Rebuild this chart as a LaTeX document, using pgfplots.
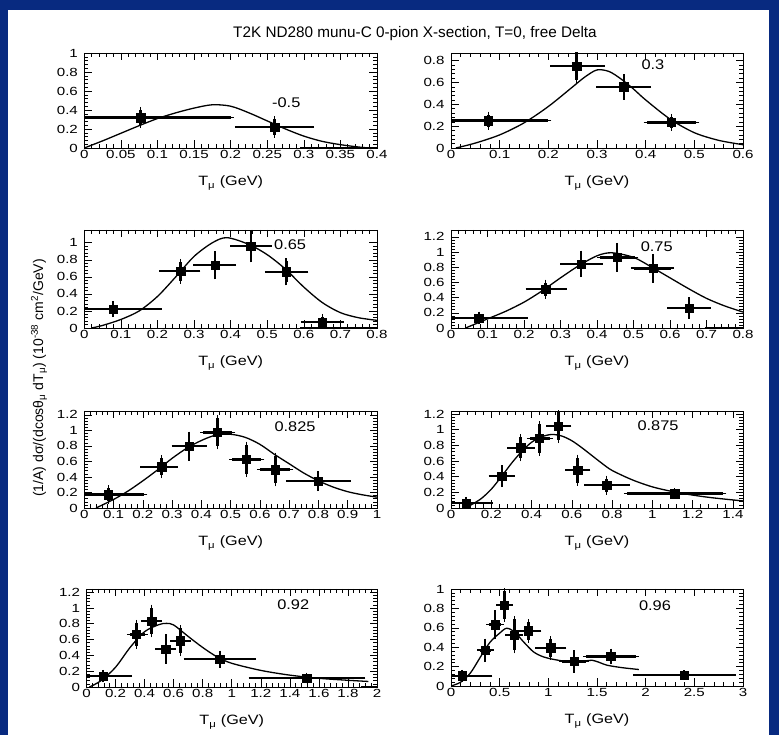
\documentclass[border=0pt]{standalone}
\usepackage{fontspec}
\setmainfont{Liberation Sans}
\usepackage{pgfplots}
\pgfplotsset{compat=1.18}
\definecolor{slideblue}{RGB}{8,42,128}

% text in the panels is set slightly wide, as in the original slide
\tikzset{cosl/.style={font=\fontsize{14}{15}\selectfont, xscale=1.17}}
\pgfplotsset{
  panel/.style={
    scale only axis,
    anchor=south west,
    axis line style={line width=0.7pt},
    tick align=inside,
    xtick pos=both, ytick pos=both,
    minor x tick num=4, minor y tick num=4,
    major tick length=7.5pt, minor tick length=3.8pt,
    tick style={black, line width=0.55pt},
    tick label style={font=\fontsize{11.8}{12}\selectfont, xscale=1.28},
    xticklabel style={yshift=1pt},
    yticklabel style={xshift=-1.5pt},
    scaled ticks=false,
    /pgf/number format/assume math mode=true,
    xticklabel style={/pgf/number format/fixed, /pgf/number format/precision=3},
    yticklabel style={/pgf/number format/fixed, /pgf/number format/precision=3},
    xlabel={T\textsubscript{μ} (GeV)},
    xlabel style={font=\fontsize{13.5}{14}\selectfont, xscale=1.2, at={(axis description cs:0.5,0)}, anchor=center, yshift=-35pt},
    xmin=0, ymin=0,
  },
  pts/.style={only marks, mark=square*, mark size=4.2pt, black,
    error bars/.cd, x dir=both, x explicit, y dir=both, y explicit,
    error bar style={line width=2.5pt},
    error mark options={line width=1.6pt, mark size=3pt}},
  theory/.style={black, line width=1.3pt, smooth, no markers},
  zeroseg/.style={black, line width=2.6pt, no markers},
  table/errtab/.style={x=x, y=y, x error minus expr={\thisrow{x}-\thisrow{lo}},
    x error plus expr={\thisrow{hi}-\thisrow{x}}, y error=dy, row sep=\\},
}

\begin{document}
\begin{tikzpicture}
\fill[slideblue] (0pt,0pt) rectangle (779pt,735pt);
\fill[white] (8pt,0pt) rectangle (769pt,725pt);

\node[font=\fontsize{15.3}{16}\selectfont] at (415pt,701.5pt) {T2K ND280 munu-C 0-pion X-section, T=0, free Delta};
\node[rotate=90, font=\fontsize{14}{14}\selectfont] at (39pt,357pt)
  {(1/A) dσ/(dcosθ\textsubscript{μ} dT\textsubscript{μ}) (10\textsuperscript{-38} cm\textsuperscript{2}/GeV)};

% cos theta = -0.5
\begin{axis}[panel, at={(84.3pt,587pt)}, width=292.7pt, height=95pt, xmax=0.4, ymax=1,
  xtick={0,0.05,0.1,0.15,0.2,0.25,0.3,0.35,0.4}, ytick={0,0.2,0.4,0.6,0.8,1}]
\addplot[theory] coordinates {(0,0) (0.025,0.075) (0.05,0.155) (0.075,0.235) (0.1,0.31)
  (0.125,0.37) (0.15,0.42) (0.175,0.455) (0.2,0.44) (0.225,0.37) (0.25,0.285) (0.275,0.2)
  (0.3,0.125) (0.325,0.07) (0.35,0.035) (0.375,0.01) (0.39,0) (0.4,0)};
\addplot[pts] table[errtab] {
x y lo hi dy \\
0.077 0.32 0.0 0.20 0.08 \\
0.26 0.22 0.21 0.31 0.08 \\
};
\addplot[zeroseg] coordinates {(0.295,0) (0.4,0)};
\node[cosl] at (axis cs:0.276,0.477) {-0.5};
\end{axis}

% cos theta = 0.3
\begin{axis}[panel, at={(451pt,587pt)}, width=292pt, height=95pt, xmax=0.6, ymax=0.87,
  xtick={0,0.1,0.2,0.3,0.4,0.5,0.6}, ytick={0,0.2,0.4,0.6,0.8}]
\addplot[theory] coordinates {(0.01,0) (0.05,0.045) (0.1,0.12) (0.15,0.23) (0.2,0.38)
  (0.25,0.56) (0.275,0.65) (0.3,0.715) (0.325,0.70) (0.35,0.63) (0.375,0.54) (0.4,0.44)
  (0.45,0.265) (0.5,0.14) (0.55,0.07) (0.6,0.03)};
\addplot[pts] table[errtab] {
x y lo hi dy \\
0.077 0.25 0.0 0.20 0.055 \\
0.258 0.75 0.21 0.31 0.13 \\
0.355 0.56 0.305 0.405 0.09 \\
0.453 0.235 0.402 0.504 0.05 \\
};
\node[cosl] at (axis cs:0.415,0.764) {0.3};
\end{axis}

% cos theta = 0.65
\begin{axis}[panel, at={(84.3pt,407pt)}, width=292.7pt, height=98pt, xmax=0.8, ymax=1.15,
  xtick={0,0.1,0.2,0.3,0.4,0.5,0.6,0.7,0.8}, ytick={0,0.2,0.4,0.6,0.8,1}]
\addplot[theory] coordinates {(0.02,0) (0.05,0.03) (0.1,0.10) (0.15,0.2) (0.2,0.37)
  (0.25,0.60) (0.3,0.84) (0.35,1.00) (0.39,1.06) (0.45,0.98) (0.5,0.86) (0.55,0.69)
  (0.6,0.48) (0.65,0.30) (0.7,0.18) (0.75,0.12) (0.8,0.09)};
\addplot[pts] table[errtab] {
x y lo hi dy \\
0.079 0.224 0.0 0.204 0.06 \\
0.263 0.667 0.213 0.309 0.11 \\
0.357 0.737 0.306 0.407 0.13 \\
0.455 0.961 0.407 0.505 0.155 \\
0.552 0.659 0.502 0.604 0.125 \\
0.651 0.07 0.600 0.702 0.06 \\
};
\addplot[zeroseg] coordinates {(0.59,0) (0.8,0)};
\node[cosl] at (axis cs:0.5625,0.974) {0.65};
\end{axis}

% cos theta = 0.75
\begin{axis}[panel, at={(451pt,407pt)}, width=292pt, height=98pt, xmax=0.8, ymax=1.29,
  xtick={0,0.1,0.2,0.3,0.4,0.5,0.6,0.7,0.8}, ytick={0,0.2,0.4,0.6,0.8,1,1.2}]
\addplot[theory] coordinates {(0.04,0) (0.1,0.12) (0.15,0.22) (0.2,0.34) (0.25,0.49)
  (0.3,0.66) (0.35,0.82) (0.4,0.95) (0.44,0.99) (0.5,0.93) (0.55,0.80) (0.6,0.66)
  (0.65,0.52) (0.7,0.39) (0.75,0.29) (0.8,0.21)};
\addplot[pts] table[errtab] {
x y lo hi dy \\
0.076 0.131 0.0 0.202 0.045 \\
0.259 0.511 0.213 0.309 0.085 \\
0.356 0.843 0.307 0.408 0.135 \\
0.455 0.93 0.408 0.505 0.15 \\
0.554 0.786 0.501 0.603 0.15 \\
0.652 0.262 0.601 0.704 0.1 \\
};
\addplot[zeroseg] coordinates {(0.695,0) (0.8,0)};
\node[cosl] at (axis cs:0.5636,1.07) {0.75};
\end{axis}

% cos theta = 0.825
\begin{axis}[panel, at={(84.3pt,227pt)}, width=292.7pt, height=97pt, xmax=1, ymax=1.25,
  xtick={0,0.1,0.2,0.3,0.4,0.5,0.6,0.7,0.8,0.9,1}, ytick={0,0.2,0.4,0.6,0.8,1,1.2}]
\addplot[theory] coordinates {(0.04,0) (0.1,0.11) (0.15,0.22) (0.2,0.35) (0.25,0.49)
  (0.3,0.64) (0.35,0.77) (0.4,0.87) (0.45,0.94) (0.5,0.95) (0.55,0.91) (0.6,0.82)
  (0.65,0.69) (0.7,0.57) (0.75,0.45) (0.8,0.35) (0.85,0.27) (0.9,0.21) (0.95,0.17) (1.0,0.14)};
\addplot[pts] table[errtab] {
x y lo hi dy \\
0.082 0.172 0.0 0.205 0.085 \\
0.264 0.53 0.201 0.309 0.11 \\
0.358 0.797 0.309 0.408 0.15 \\
0.455 0.974 0.406 0.506 0.18 \\
0.554 0.625 0.505 0.605 0.19 \\
0.653 0.496 0.6 0.704 0.18 \\
0.799 0.345 0.699 0.90 0.09 \\
};
\node[cosl] at (axis cs:0.72,1.048) {0.825};
\end{axis}

% cos theta = 0.875
\begin{axis}[panel, at={(451pt,227pt)}, width=292pt, height=97pt, xmax=1.45, ymax=1.24,
  xtick={0,0.2,0.4,0.6,0.8,1,1.2,1.4}, ytick={0,0.2,0.4,0.6,0.8,1,1.2}]
\addplot[theory] coordinates {(0.07,0) (0.1,0.04) (0.15,0.12) (0.2,0.24) (0.25,0.40)
  (0.3,0.57) (0.35,0.72) (0.4,0.84) (0.45,0.91) (0.5,0.94) (0.55,0.92) (0.6,0.86)
  (0.65,0.77) (0.7,0.67) (0.75,0.57) (0.8,0.48) (0.9,0.36) (1.0,0.27) (1.1,0.21)
  (1.2,0.165) (1.3,0.13) (1.45,0.09)};
\addplot[pts] table[errtab] {
x y lo hi dy \\
0.075 0.064 0.0 0.194 0.04 \\
0.252 0.406 0.202 0.301 0.1 \\
0.346 0.769 0.293 0.40 0.135 \\
0.439 0.889 0.392 0.492 0.18 \\
0.533 1.047 0.488 0.583 0.18 \\
0.629 0.483 0.583 0.677 0.16 \\
0.773 0.291 0.677 0.873 0.085 \\
1.11 0.184 0.873 1.352 0.03 \\
};
\node[cosl] at (axis cs:1.028,1.048) {0.875};
\end{axis}

% cos theta = 0.92
\begin{axis}[panel, at={(86.5pt,48pt)}, width=290.5pt, height=98pt, xmax=2, ymax=1.24,
  xtick={0,0.2,0.4,0.6,0.8,1,1.2,1.4,1.6,1.8,2}, ytick={0,0.2,0.4,0.6,0.8,1,1.2}]
\addplot[theory] coordinates {(0.02,0) (0.1,0.08) (0.2,0.25) (0.3,0.5) (0.4,0.70)
  (0.5,0.79) (0.55,0.805) (0.6,0.785) (0.7,0.64) (0.8,0.50) (0.9,0.38) (1.0,0.30)
  (1.2,0.21) (1.4,0.15) (1.6,0.11) (1.8,0.085) (1.94,0.07)};
\addplot[pts] table[errtab] {
x y lo hi dy \\
0.114 0.14 0.0 0.294 0.04 \\
0.344 0.665 0.298 0.402 0.145 \\
0.448 0.835 0.395 0.5 0.17 \\
0.546 0.479 0.493 0.597 0.15 \\
0.647 0.585 0.597 0.70 0.16 \\
0.918 0.352 0.689 1.148 0.07 \\
1.515 0.114 1.136 1.90 0.03 \\
};
\addplot[zeroseg] coordinates {(1.89,0) (2,0)};
\node[cosl] at (axis cs:1.423,1.037) {0.92};
\end{axis}

% cos theta = 0.96
\begin{axis}[panel, at={(451pt,49pt)}, width=292pt, height=97pt, xmax=3, ymax=1,
  xtick={0,0.5,1,1.5,2,2.5,3}, ytick={0,0.2,0.4,0.6,0.8,1}]
\addplot[theory] coordinates {(0,0) (0.1,0.04) (0.2,0.135) (0.3,0.295) (0.4,0.45)
  (0.5,0.545) (0.57,0.595) (0.65,0.56) (0.75,0.45) (0.85,0.35) (0.95,0.30) (1.05,0.275)
  (1.2,0.25) (1.3,0.245) (1.38,0.258) (1.45,0.265) (1.52,0.245) (1.6,0.215) (1.75,0.19)
  (1.93,0.17)};
\addplot[pts] table[errtab] {
x y lo hi dy \\
0.116 0.105 0.0 0.394 0.03 \\
0.349 0.368 0.298 0.408 0.09 \\
0.452 0.632 0.394 0.51 0.12 \\
0.548 0.835 0.497 0.606 0.145 \\
0.651 0.526 0.589 0.709 0.16 \\
0.795 0.568 0.692 0.897 0.09 \\
1.024 0.393 0.897 1.154 0.09 \\
1.264 0.253 1.137 1.387 0.085 \\
1.641 0.305 1.387 1.901 0.05 \\
2.394 0.112 1.901 2.894 0.02 \\
};
\node[cosl] at (axis cs:2.096,0.833) {0.96};
\end{axis}

\pgfresetboundingbox
\useasboundingbox (0pt,0pt) rectangle (779pt,735pt);
\end{tikzpicture}
\end{document}
